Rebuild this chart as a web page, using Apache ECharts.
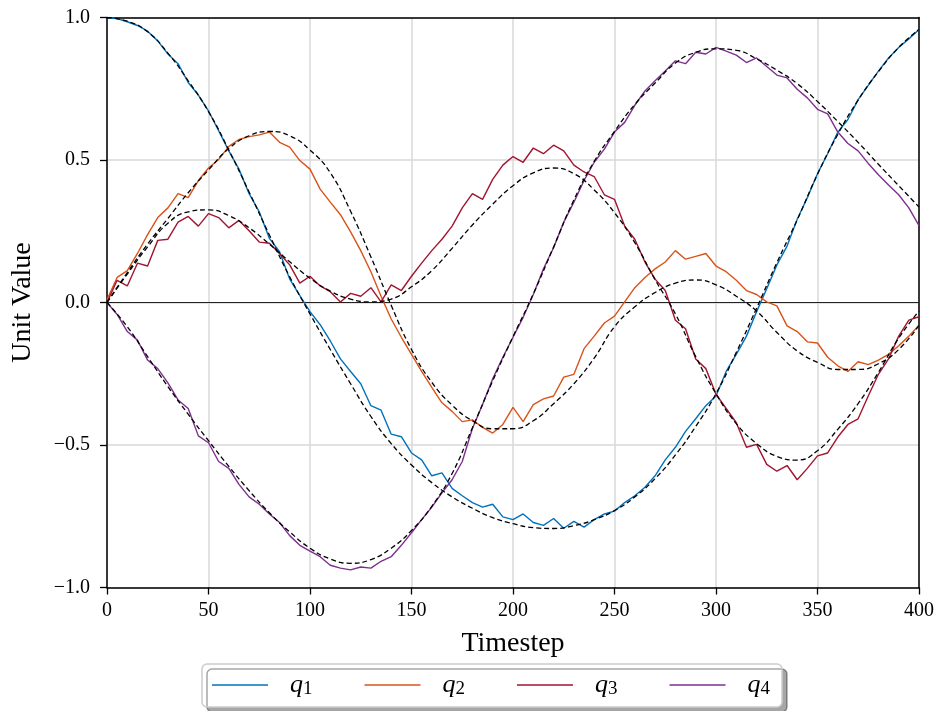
<!DOCTYPE html>
<html>
<head>
<meta charset="utf-8">
<title>Unit Value vs Timestep</title>
<script src="https://cdn.jsdelivr.net/npm/echarts@6/dist/echarts.min.js"></script>
<style>
  html, body { margin: 0; padding: 0; background: #fff; }
  #main { width: 937px; height: 711px; }
</style>
</head>
<body>
<div id="main"></div>
<script>
// sampled timesteps for the measured (noisy) components
var noisySteps = [
  0, 5, 10, 15, 20, 25, 30, 35, 40, 45,
  50, 55, 60, 65, 70, 75, 80, 85, 90, 95,
  100, 105, 110, 115, 120, 125, 130, 135, 140, 145,
  150, 155, 160, 165, 170, 175, 180, 185, 190, 195,
  200, 205, 210, 215, 220, 225, 230, 235, 240, 245,
  250, 255, 260, 265, 270, 275, 280, 285, 290, 295,
  300, 305, 310, 315, 320, 325, 330, 335, 340, 345,
  350, 355, 360, 365, 370, 375, 380, 385, 390, 395,
  400
];

// timesteps for the reference (dashed) curves
var refSteps = [
  0, 10, 20, 30, 40, 50, 60, 70, 80, 90,
  100, 110, 120, 130, 140, 150, 160, 170, 180, 190,
  200, 210, 220, 230, 240, 250, 260, 270, 280, 290,
  300, 310, 320, 330, 340, 350, 360, 370, 380, 390,
  400
];

var q1 = [
  1.000, 0.996, 0.985, 0.972, 0.952, 0.918, 0.872, 0.838, 0.772, 0.728,
  0.672, 0.603, 0.532, 0.468, 0.382, 0.318, 0.225, 0.178, 0.082, 0.024,
  -0.032, -0.078, -0.135, -0.198, -0.242, -0.285, -0.362, -0.378, -0.462, -0.471,
  -0.528, -0.552, -0.608, -0.598, -0.652, -0.678, -0.702, -0.718, -0.708, -0.752,
  -0.762, -0.742, -0.772, -0.782, -0.758, -0.792, -0.768, -0.788, -0.762, -0.742,
  -0.732, -0.702, -0.678, -0.648, -0.608, -0.552, -0.508, -0.452, -0.408, -0.362,
  -0.328, -0.242, -0.182, -0.118, -0.032, 0.048, 0.132, 0.198, 0.292, 0.368,
  0.452, 0.522, 0.598, 0.642, 0.712, 0.762, 0.812, 0.858, 0.895, 0.925,
  0.958
];
var q2 = [
  0.010, 0.088, 0.112, 0.172, 0.238, 0.298, 0.332, 0.382, 0.368, 0.428,
  0.472, 0.502, 0.548, 0.572, 0.582, 0.588, 0.598, 0.562, 0.545, 0.498,
  0.468, 0.398, 0.352, 0.308, 0.248, 0.182, 0.108, 0.022, -0.058, -0.122,
  -0.182, -0.242, -0.298, -0.352, -0.382, -0.418, -0.412, -0.438, -0.458, -0.428,
  -0.368, -0.418, -0.358, -0.338, -0.328, -0.262, -0.252, -0.162, -0.118, -0.072,
  -0.048, 0.002, 0.052, 0.088, 0.118, 0.142, 0.182, 0.152, 0.162, 0.172,
  0.128, 0.108, 0.078, 0.042, 0.028, 0.002, -0.012, -0.082, -0.102, -0.138,
  -0.142, -0.192, -0.222, -0.242, -0.208, -0.218, -0.202, -0.182, -0.152, -0.118,
  -0.080
];
var q3 = [
  0.000, 0.078, 0.058, 0.138, 0.128, 0.218, 0.222, 0.282, 0.302, 0.268,
  0.312, 0.298, 0.262, 0.288, 0.252, 0.212, 0.208, 0.172, 0.132, 0.068,
  0.092, 0.058, 0.038, 0.002, 0.032, 0.022, 0.052, 0.002, 0.062, 0.042,
  0.092, 0.138, 0.182, 0.222, 0.268, 0.332, 0.382, 0.362, 0.432, 0.482,
  0.512, 0.492, 0.542, 0.522, 0.552, 0.532, 0.482, 0.458, 0.442, 0.378,
  0.362, 0.268, 0.222, 0.142, 0.082, 0.042, -0.062, -0.092, -0.198, -0.232,
  -0.322, -0.372, -0.422, -0.508, -0.498, -0.568, -0.592, -0.572, -0.622, -0.582,
  -0.538, -0.528, -0.472, -0.428, -0.408, -0.328, -0.252, -0.198, -0.118, -0.062,
  -0.050
];
var q4 = [
  0.000, -0.042, -0.102, -0.132, -0.202, -0.232, -0.282, -0.342, -0.372, -0.468,
  -0.492, -0.558, -0.582, -0.638, -0.682, -0.708, -0.742, -0.772, -0.818, -0.852,
  -0.872, -0.892, -0.922, -0.932, -0.938, -0.928, -0.932, -0.908, -0.892, -0.852,
  -0.808, -0.762, -0.718, -0.668, -0.622, -0.558, -0.442, -0.358, -0.268, -0.192,
  -0.122, -0.052, 0.028, 0.118, 0.192, 0.282, 0.352, 0.428, 0.492, 0.538,
  0.598, 0.632, 0.692, 0.742, 0.778, 0.812, 0.848, 0.838, 0.878, 0.872,
  0.895, 0.882, 0.868, 0.842, 0.858, 0.828, 0.798, 0.788, 0.748, 0.718,
  0.678, 0.662, 0.598, 0.558, 0.532, 0.488, 0.448, 0.412, 0.378, 0.332,
  0.270
];

// reference curves (black dashed)
var q1Ref = [
  1.000, 0.987, 0.950, 0.875, 0.778, 0.670, 0.535, 0.388, 0.237, 0.090,
  -0.040, -0.165, -0.285, -0.400, -0.495, -0.570, -0.632, -0.682, -0.722, -0.755,
  -0.776, -0.790, -0.793, -0.783, -0.762, -0.730, -0.682, -0.618, -0.535, -0.435,
  -0.320, -0.175, -0.020, 0.140, 0.290, 0.450, 0.590, 0.710, 0.810, 0.895,
  0.958
];
var q2Ref = [
  0.000, 0.105, 0.205, 0.295, 0.385, 0.465, 0.540, 0.585, 0.600, 0.585,
  0.535, 0.455, 0.320, 0.160, -0.010, -0.165, -0.280, -0.360, -0.415, -0.443,
  -0.443, -0.415, -0.355, -0.285, -0.195, -0.085, -0.015, 0.035, 0.068, 0.079,
  0.062, 0.022, -0.030, -0.105, -0.170, -0.210, -0.235, -0.235, -0.215, -0.165,
  -0.080
];
var q3Ref = [
  0.000, 0.100, 0.195, 0.278, 0.318, 0.325, 0.305, 0.262, 0.205, 0.143,
  0.085, 0.040, 0.012, 0.002, 0.012, 0.055, 0.112, 0.190, 0.272, 0.345,
  0.410, 0.455, 0.472, 0.452, 0.395, 0.315, 0.210, 0.080, -0.040, -0.190,
  -0.320, -0.425, -0.495, -0.540, -0.553, -0.520, -0.445, -0.355, -0.245, -0.125,
  -0.030
];
var q4Ref = [
  0.000, -0.085, -0.190, -0.295, -0.392, -0.485, -0.575, -0.660, -0.738, -0.805,
  -0.862, -0.900, -0.915, -0.902, -0.862, -0.800, -0.715, -0.600, -0.440, -0.275,
  -0.120, 0.030, 0.195, 0.360, 0.495, 0.600, 0.695, 0.770, 0.840, 0.878,
  0.890, 0.885, 0.855, 0.815, 0.768, 0.705, 0.635, 0.562, 0.485, 0.410,
  0.335
];

var seriesNames = ['q1', 'q2', 'q3', 'q4'];
var colors = ['#0072BD', '#D95319', '#A2142F', '#7E2F8E'];
var yTickLabels = { '-1': '\u22121.0', '-0.5': '\u22120.5', '0': '0.0', '0.5': '0.5', '1': '1.0' };

var FONT = 'Liberation Serif';

function pairs(xs, ys) {
  return xs.map(function (x, i) { return [x, ys[i]]; });
}

var noisy = [q1, q2, q3, q4];
var refs = [q1Ref, q2Ref, q3Ref, q4Ref];

var series = [];
noisy.forEach(function (d, i) {
  var s = {
    name: seriesNames[i],
    type: 'line',
    data: pairs(noisySteps, d),
    showSymbol: false,
    symbol: 'none',
    lineStyle: { color: colors[i], width: 1.4 },
    itemStyle: { color: colors[i] },
    z: 3
  };
  if (i === 0) {
    // thin black line at zero
    s.markLine = {
      silent: true,
      symbol: 'none',
      label: { show: false },
      lineStyle: { color: '#222', width: 1, type: 'solid' },
      data: [{ yAxis: 0 }],
      z: 1
    };
  }
  series.push(s);
});
refs.forEach(function (d, i) {
  series.push({
    name: seriesNames[i] + ' ref',
    type: 'line',
    data: pairs(refSteps, d),
    smooth: true,
    showSymbol: false,
    symbol: 'none',
    lineStyle: { color: '#000', width: 1.3, type: [5, 3] },
    z: 5
  });
});

var chart = echarts.init(document.getElementById('main'), null, { renderer: 'canvas' });

var frameLine = { show: true, onZero: false, lineStyle: { color: '#000', width: 1.5 } };
var tickStyle = { show: true, inside: false, length: 7, lineStyle: { color: '#000', width: 1.3 } };
var gridLine = { show: true, lineStyle: { color: '#d9d9d9', width: 1.5 } };

var option = {
  animation: false,
  textStyle: { fontFamily: FONT, color: '#000' },
  grid: {
    left: 107,
    right: 17,
    top: 17.5,
    bottom: 123.5,
    show: false
  },
  legend: {
    data: seriesNames,
    left: 202,
    top: 664,
    orient: 'horizontal',
    icon: 'rect',
    itemWidth: 56,
    itemHeight: 1.6,
    itemGap: 52,
    padding: [8, 12, 8, 10],
    backgroundColor: '#fff',
    borderColor: '#cccccc',
    borderWidth: 1.5,
    borderRadius: 5,
    shadowColor: 'rgba(0,0,0,0.35)',
    shadowBlur: 0,
    shadowOffsetX: 5,
    shadowOffsetY: 5,
    formatter: function (name) {
      return '{q|q}{s|' + name.slice(1) + '}';
    },
    textStyle: {
      padding: [0, 0, 0, 17],
      rich: {
        q: { fontFamily: FONT, fontStyle: 'italic', fontSize: 26, lineHeight: 28, color: '#000' },
        s: { fontFamily: FONT, fontSize: 19, lineHeight: 19, verticalAlign: 'bottom', color: '#000', padding: [0, 0, 0, 0] }
      }
    }
  },
  xAxis: [{
    type: 'value',
    min: 0,
    max: 400,
    interval: 50,
    name: 'Timestep',
    nameLocation: 'middle',
    nameGap: 42,
    nameTextStyle: { fontFamily: FONT, fontSize: 28, color: '#000' },
    axisLine: frameLine,
    axisTick: tickStyle,
    axisLabel: { fontFamily: FONT, fontSize: 20, color: '#000', margin: 13 },
    splitLine: gridLine
  }, {
    type: 'value',
    position: 'top',
    min: 0,
    max: 400,
    axisLine: frameLine,
    axisTick: { show: false },
    axisLabel: { show: false },
    splitLine: { show: false }
  }],
  yAxis: [{
    type: 'value',
    min: -1,
    max: 1,
    interval: 0.5,
    name: 'Unit Value',
    nameLocation: 'middle',
    nameRotate: 90,
    nameGap: 70,
    nameTextStyle: { fontFamily: FONT, fontSize: 28, color: '#000' },
    axisLine: frameLine,
    axisTick: tickStyle,
    axisLabel: {
      fontFamily: FONT,
      fontSize: 20,
      color: '#000',
      margin: 17,
      formatter: function (v) { return yTickLabels[String(v)] || String(v); }
    },
    splitLine: gridLine
  }, {
    type: 'value',
    position: 'right',
    min: -1,
    max: 1,
    axisLine: frameLine,
    axisTick: { show: false },
    axisLabel: { show: false },
    splitLine: { show: false }
  }],
  series: series
};

chart.setOption(option);
</script>
</body>
</html>
